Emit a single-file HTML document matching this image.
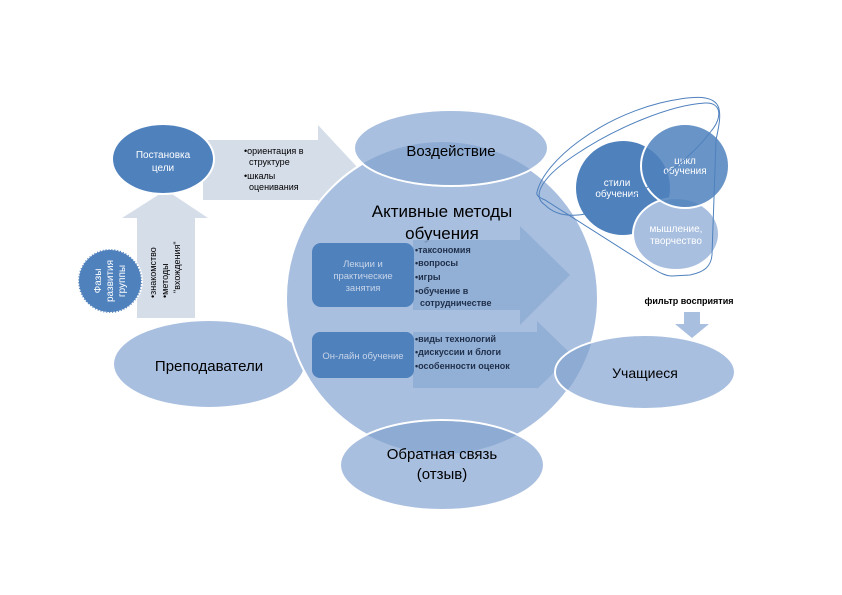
<!DOCTYPE html>
<html><head><meta charset="utf-8"><style>
body{margin:0;background:#fff}
svg{display:block;font-family:"Liberation Sans","DejaVu Sans",sans-serif}
</style></head><body>
<svg width="842" height="595" viewBox="0 0 842 595">
<defs>
<clipPath id="big"><circle cx="442" cy="298" r="156"/></clipPath>
</defs>
<polygon points="137,318 195,318 195,218 208,218 166,190 122,218 137,218" fill="#d5dde9"/>
<polygon points="203,140 318,140 318,125 358,168 318,212 318,200 203,200" fill="#d5dde9"/>
<ellipse cx="209" cy="364" rx="96" ry="44" fill="#a9bfdf" stroke="#fff" stroke-width="2"/>
<text x="209" y="371" font-size="15" text-anchor="middle" fill="#000">Преподаватели</text>
<circle cx="442" cy="298" r="156" fill="#a9bfdf" stroke="#fff" stroke-width="2"/>
<ellipse cx="451" cy="148" rx="97" ry="38" fill="#a9bfdf" stroke="#fff" stroke-width="2"/>
<ellipse cx="451" cy="148" rx="96" ry="37" fill="#8eacd3" clip-path="url(#big)"/>
<text x="451" y="156" font-size="15" text-anchor="middle">Воздействие</text>
<text x="442" y="217" font-size="17" text-anchor="middle">Активные методы</text>
<text x="442" y="239" font-size="17" text-anchor="middle">обучения</text>
<polygon points="413,240 520,240 520,226 570,275 520,325 520,310 413,310" fill="#8eacd3" opacity="0.85"/>
<polygon points="413,332 537,332 537,321 572,355 537,389 537,388 413,388" fill="#8eacd3" opacity="0.85"/>
<rect x="312" y="243" width="102" height="64" rx="9" fill="#4f81bd"/>
<text font-size="9.5" fill="#c8d5e8" text-anchor="middle"><tspan x="363" y="267">Лекции и</tspan><tspan x="363" y="279">практические</tspan><tspan x="363" y="291">занятия</tspan></text>
<rect x="312" y="332" width="102" height="46" rx="8" fill="#4f81bd"/>
<text x="363" y="359" font-size="9.5" fill="#c8d5e8" text-anchor="middle">Он-лайн обучение</text>
<g font-size="9" font-weight="bold" fill="#1f2f4a">
<text x="415" y="253">•таксономия</text>
<text x="415" y="266">•вопросы</text>
<text x="415" y="280">•игры</text>
<text x="415" y="294">•обучение в</text>
<text x="420" y="306">сотрудничестве</text>
<text x="415" y="342">•виды технологий</text>
<text x="415" y="355">•дискуссии и блоги</text>
<text x="415" y="369">•особенности оценок</text>
</g>
<ellipse cx="442" cy="465" rx="102" ry="45" fill="#a9bfdf" stroke="#fff" stroke-width="2"/>
<ellipse cx="442" cy="465" rx="101" ry="44" fill="#8eacd3" clip-path="url(#big)"/>
<text x="442" y="459" font-size="15" text-anchor="middle">Обратная связь</text>
<text x="442" y="479" font-size="15" text-anchor="middle">(отзыв)</text>
<ellipse cx="645" cy="372" rx="90" ry="37" fill="#a9bfdf" stroke="#fff" stroke-width="2"/>
<ellipse cx="645" cy="372" rx="89" ry="36" fill="#8eacd3" clip-path="url(#big)"/>
<text x="645" y="378" font-size="14" text-anchor="middle">Учащиеся</text>
<ellipse cx="163" cy="159" rx="51" ry="35" fill="#4f81bd" stroke="#fff" stroke-width="2"/>
<text font-size="10" fill="#fff" text-anchor="middle"><tspan x="163" y="158">Постановка</tspan><tspan x="163" y="171">цели</tspan></text>
<circle cx="110" cy="281" r="32" fill="#4f81bd" stroke="#fff" stroke-width="2" stroke-dasharray="2,1"/>
<text font-size="10" fill="#fff" text-anchor="middle" transform="translate(110,281) rotate(-90)"><tspan x="0" y="-9">Фазы</tspan><tspan x="0" y="3">развития</tspan><tspan x="0" y="15">группы</tspan></text>
<text font-size="9" fill="#000" transform="translate(166,258) rotate(-90)"><tspan x="-40" y="-10">•знакомство</tspan><tspan x="-40" y="2">•методы</tspan><tspan x="-35" y="14">"вхождения"</tspan></text>
<g font-size="9" fill="#000"><text x="244" y="154">•ориентация в</text><text x="249" y="165">структуре</text><text x="244" y="179">•шкалы</text><text x="249" y="190">оценивания</text></g>
<circle cx="623" cy="188" r="48" fill="#4f81bd" stroke="#fff" stroke-width="2"/>
<ellipse cx="676" cy="234" rx="43" ry="36" fill="#a9bfdf" stroke="#fff" stroke-width="2"/>
<ellipse cx="685" cy="166" rx="44" ry="42" fill="#4f81bd" fill-opacity="0.85" stroke="#fff" stroke-width="2"/>
<text font-size="10" fill="#fff" text-anchor="middle"><tspan x="617" y="186">стили</tspan><tspan x="617" y="197">обучения</tspan><tspan x="685" y="164">цикл</tspan><tspan x="685" y="174">обучения</tspan><tspan x="676" y="232">мышление,</tspan><tspan x="676" y="244">творчество</tspan></text>
<path d="M545,205 C530,195 545,175 575,155 C615,128 670,105 705,103 C722,102 722,118 712,130 C690,160 640,200 590,213 C565,219 552,212 545,205Z" fill="none" stroke="#4f81bd" stroke-width="1"/>
<path d="M537,192 C545,160 600,118 660,103 C690,96 712,94 718,106 C722,115 718,130 716,140 L712,255 C711,266 705,272 690,275 L672,276 C666,276 660,273 652,268 L545,200 C538,197 536,195 537,192Z" fill="none" stroke="#4f81bd" stroke-width="1"/>
<text x="689" y="304" font-size="9" font-weight="bold" text-anchor="middle">фильтр восприятия</text>
<polygon points="684,312 700,312 700,324 709,324 692,338 675,324 684,324" fill="#a9bfdf"/>
</svg>
</body></html>
